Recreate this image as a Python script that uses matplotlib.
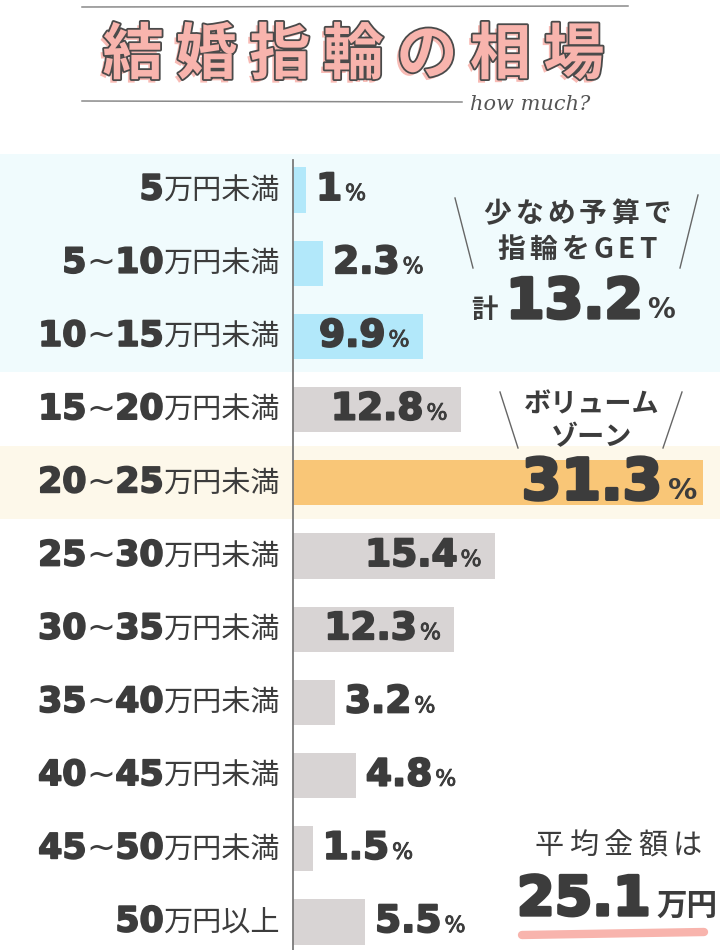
import matplotlib
matplotlib.use("Agg")
import matplotlib.pyplot as plt
from matplotlib.offsetbox import TextArea, HPacker, AnnotationBbox
from matplotlib.patches import Rectangle
from matplotlib.transforms import blended_transform_factory
import matplotlib.patheffects as pe

# ---------------- data ----------------
range_labels = ["5", "5~10", "10~15", "15~20", "20~25", "25~30",
                "30~35", "35~40", "40~45", "45~50", "50"]
range_suffix = ["万円未満"] * 10 + ["万円以上"]
shares = [1, 2.3, 9.9, 12.8, 31.3, 15.4, 12.3, 3.2, 4.8, 1.5, 5.5]
share_text = ["1", "2.3", "9.9", "12.8", "31.3", "15.4", "12.3", "3.2", "4.8", "1.5", "5.5"]
low_group = [0, 1, 2]        # 少なめ予算
volume_idx = 4               # ボリュームゾーン
avg_price = "25.1"
title_text = "結婚指輪の相場"

# ---------------- style ----------------
TXT = "#3c3c3c"
BLUE_BAR = "#b2e8fa"
BLUE_BG = "#f0fbfd"
GRAY_BAR = "#d8d4d4"
ORANGE_BAR = "#f9c677"
CREAM_BG = "#fdf8ea"
PINK = "#f8b4ad"
NUM = "DejaVu Sans"
JP = "Noto Sans CJK JP"

W, H = 720, 950
fig = plt.figure(figsize=(7.2, 9.5), dpi=100)
fig.patch.set_facecolor("white")

# background / decoration axes in pixel coordinates
bg = fig.add_axes([0, 0, 1, 1], zorder=0)
bg.set_xlim(0, W)
bg.set_ylim(H, 0)
bg.axis("off")

# bar axes
px_per_pct = 13.1
axis_x = 293
row0 = 190.0
row_step = 73.2
top_px = 160
ax = fig.add_axes([axis_x / W, 0, (W - axis_x) / W, (H - top_px) / H], zorder=1)
ax.patch.set_visible(False)
ax.set_xlim(0, (W - axis_x) / px_per_pct)
ax.set_ylim((H - row0) / row_step, (top_px - row0) / row_step)
for s in ["top", "right", "bottom"]:
    ax.spines[s].set_visible(False)
ax.spines["left"].set_color("#7a7a7a")
ax.spines["left"].set_linewidth(1.3)
ax.set_xticks([])
ax.set_yticks([])

# row bands (drawn on the background axes, rows from the bar axes)
blend = blended_transform_factory(fig.transFigure, ax.transData)
bg.add_patch(Rectangle((0, min(low_group) - 0.49), 1, len(low_group) - 0.02,
                       transform=blend, facecolor=BLUE_BG, edgecolor="none",
                       zorder=0, clip_on=False))
bg.add_patch(Rectangle((0, volume_idx - 0.5), 1, 1.0,
                       transform=blend, facecolor=CREAM_BG, edgecolor="none",
                       zorder=0, clip_on=False))

colors = []
for i in range(len(shares)):
    if i in low_group:
        colors.append(BLUE_BAR)
    elif i == volume_idx:
        colors.append(ORANGE_BAR)
    else:
        colors.append(GRAY_BAR)
ypos = list(range(len(shares)))
ax.barh(ypos, shares, height=0.62, color=colors, zorder=2)

PT = 0.72  # px -> points


def num_area(text, size, lw):
    """Heavy numerals: bold sans thickened with a same-colour stroke."""
    return TextArea(text, textprops=dict(
        family=NUM, weight="bold", size=size, color=TXT,
        path_effects=[pe.Stroke(linewidth=lw, foreground=TXT, joinstyle="round"), pe.Normal()]))


def spaced(text, sep, **props):
    """Letter-spaced text as a row of single characters."""
    return HPacker(children=[TextArea(c, textprops=props) for c in text],
                   align="baseline", pad=0, sep=sep)


def range_area(lab, size):
    parts = lab.split("~")
    kids = [num_area(parts[0], size, 1.3)]
    if len(parts) > 1:
        kids.append(TextArea("~", textprops=dict(family=NUM, size=size, color=TXT)))
        kids.append(num_area(parts[1], size, 1.3))
    return HPacker(children=kids, align="baseline", pad=0, sep=0)


# category labels
for i, (lab, suf) in enumerate(zip(range_labels, range_suffix)):
    box = HPacker(children=[
        range_area(lab, 25),
        TextArea(suf, textprops=dict(family=JP, size=21, color=TXT)),
    ], align="baseline", pad=0, sep=0)
    ab = AnnotationBbox(box, (0, i), xybox=(-13 * PT, 0.5 * PT), xycoords="data",
                        boxcoords="offset points", box_alignment=(1, 0.5),
                        frameon=False, pad=0, annotation_clip=False)
    ax.add_artist(ab)

# value labels
for i, (v, t) in enumerate(zip(shares, share_text)):
    if i == volume_idx:
        box = HPacker(children=[
            num_area(t, 41, 2.4),
            TextArea("%", textprops=dict(family=NUM, weight="bold", size=21, color=TXT)),
        ], align="baseline", pad=0, sep=4)
        ab = AnnotationBbox(box, (v, i), xybox=(-6 * PT, -1 * PT), xycoords="data",
                            boxcoords="offset points", box_alignment=(1, 0.5),
                            frameon=False, pad=0, annotation_clip=False)
    else:
        box = HPacker(children=[
            num_area(t, 27, 1.4),
            TextArea("%", textprops=dict(family=NUM, size=16, color=TXT,
                                         path_effects=[pe.Stroke(linewidth=0.6, foreground=TXT), pe.Normal()])),
        ], align="baseline", pad=0, sep=2)
        if v >= 9:
            ab = AnnotationBbox(box, (v, i), xybox=(-13 * PT, 0), xycoords="data",
                                boxcoords="offset points", box_alignment=(1, 0.5),
                                frameon=False, pad=0, annotation_clip=False)
        else:
            ab = AnnotationBbox(box, (v, i), xybox=(10 * PT, 0), xycoords="data",
                                boxcoords="offset points", box_alignment=(0, 0.5),
                                frameon=False, pad=0, annotation_clip=False)
    ax.add_artist(ab)

# ---------------- title ----------------
bg.plot([82, 628], [7, 6], color="#8a8a8a", lw=1.1)
bg.plot([82, 462], [101, 102], color="#8a8a8a", lw=1.1)
bg.text(470, 110, "how much?", family="DejaVu Serif", style="italic",
        size=15, color="#555555", ha="left", va="baseline")
x0, pitch = 133, 73.5
for k, ch in enumerate(title_text):
    bg.text(x0 + k * pitch, 56, ch, family=JP, weight="bold", size=44,
            color=PINK, ha="center", va="center",
            path_effects=[pe.SimplePatchShadow(offset=(-2.5, -2.5), shadow_rgbFace=PINK, alpha=0.9),
                          pe.Stroke(linewidth=2.6, foreground="#4a4a4a"),
                          pe.Normal()])

# ---------------- side annotations ----------------
# low budget
bg.plot([455, 473], [198, 268], color="#666666", lw=1.0)
bg.plot([698, 680], [195, 268], color="#666666", lw=1.0)
jp_head = dict(family=[JP], weight="bold", size=20, color=TXT)
bg.add_artist(AnnotationBbox(spaced("少なめ予算で", 3, **jp_head), (577, 214),
                             xycoords="data", box_alignment=(0.5, 0.5), frameon=False, pad=0))
bg.add_artist(AnnotationBbox(spaced("指輪をGET", 3, **jp_head), (577, 250),
                             xycoords="data", box_alignment=(0.5, 0.5), frameon=False, pad=0))
low_total = sum(shares[i] for i in low_group)
box = HPacker(children=[
    TextArea("計", textprops=dict(family=JP, weight="bold", size=19, color=TXT)),
    HPacker(children=[
        num_area(f"{low_total:.1f}", 40, 2.4),
        TextArea("%", textprops=dict(family=NUM, weight="bold", size=20, color=TXT)),
    ], align="baseline", pad=0, sep=3),
], align="baseline", pad=0, sep=6)
bg.add_artist(AnnotationBbox(box, (573, 303), xycoords="data", box_alignment=(0.5, 0.5),
                             frameon=False, pad=0))

# volume zone
bg.plot([500, 518], [392, 448], color="#666666", lw=1.0)
bg.plot([682, 663], [392, 448], color="#666666", lw=1.0)
bg.text(592, 404, "ボリューム", family=JP, weight="bold", size=19.5,
        color=TXT, ha="center", va="center")
bg.text(592, 437, "ゾーン", family=JP, weight="bold", size=19.5,
        color=TXT, ha="center", va="center")

# average
bg.add_artist(AnnotationBbox(spaced("平均金額は", 4, family=JP, size=21, color=TXT),
                             (618, 846), xycoords="data", box_alignment=(0.5, 0.5),
                             frameon=False, pad=0))
bg.plot([522, 704], [935, 932], color=PINK, lw=6, solid_capstyle="round")
box = HPacker(children=[
    num_area(avg_price, 39, 2.4),
    TextArea("万円", textprops=dict(family=JP, weight="bold", size=22, color=TXT)),
], align="baseline", pad=0, sep=4)
bg.add_artist(AnnotationBbox(box, (617, 900), xycoords="data", box_alignment=(0.5, 0.5),
                             frameon=False, pad=0))

fig.savefig("out.png", dpi=100, facecolor="white")
